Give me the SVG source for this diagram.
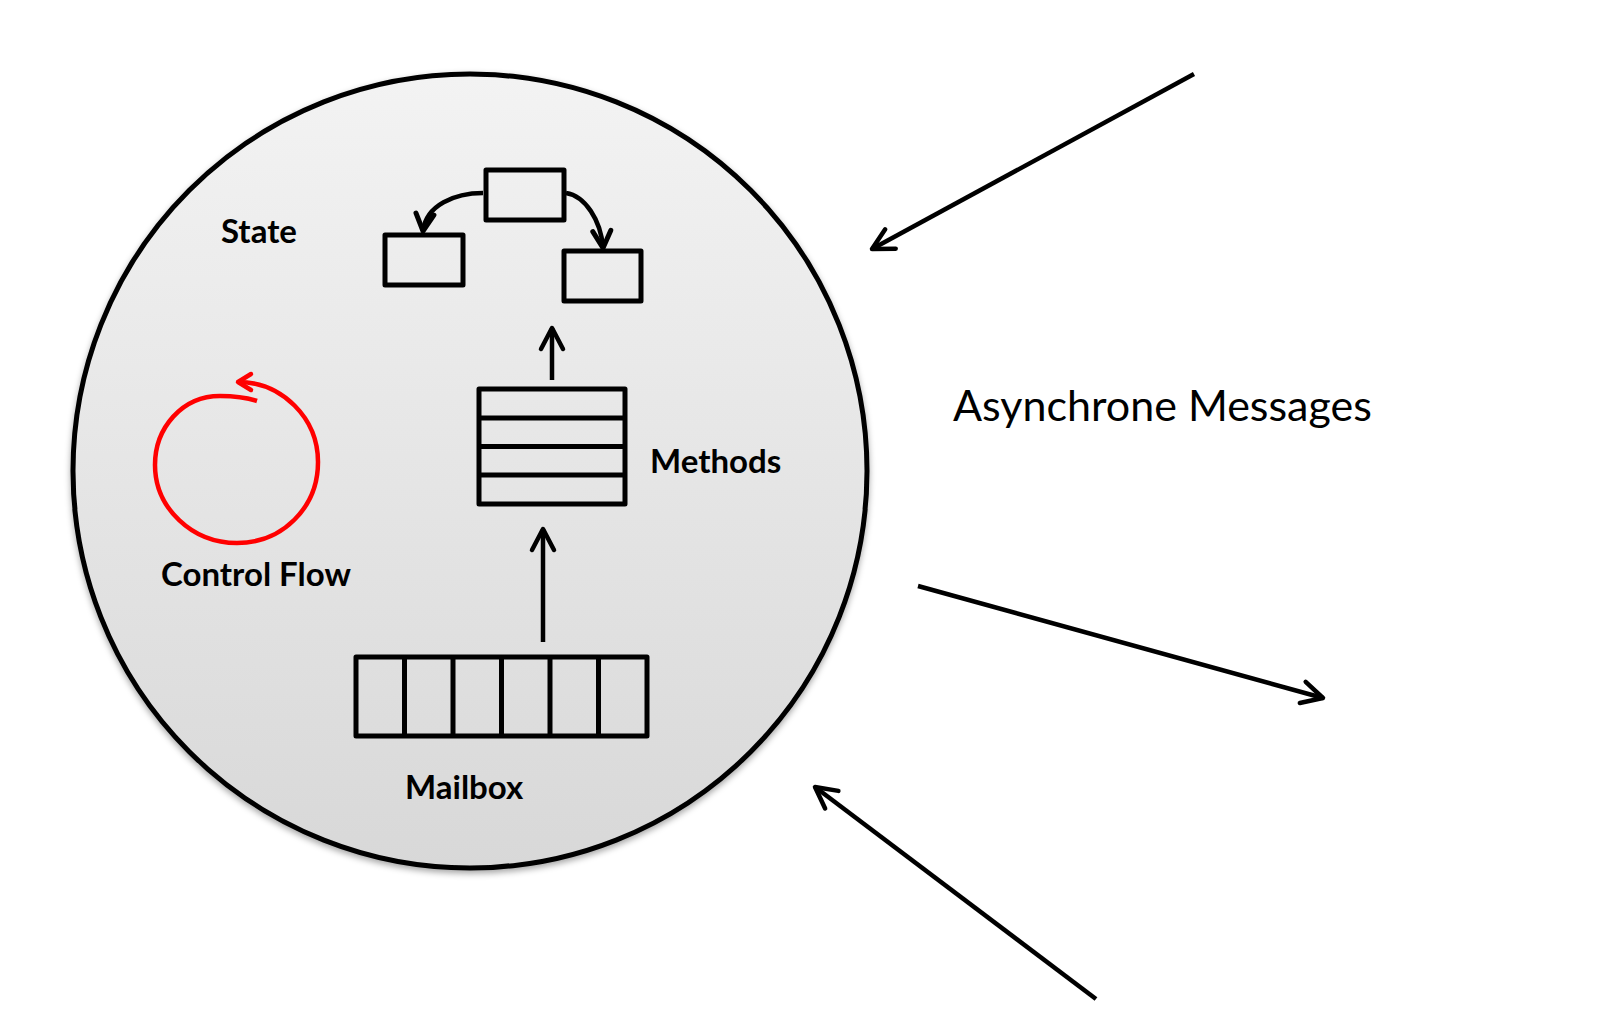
<svg xmlns="http://www.w3.org/2000/svg" width="1602" height="1012" viewBox="0 0 1602 1012">
<style>
.ln{fill:none;stroke:#000;stroke-width:5;stroke-linejoin:round}
.bx{fill:none;stroke:#000;stroke-width:5;stroke-linejoin:round}
.ar{fill:none;stroke:#000;stroke-width:4.5;stroke-linecap:butt}
.lb{font-family:Lato,"Open Sans","Liberation Sans",sans-serif;font-weight:bold;font-size:33px;fill:#000}
.tx{font-family:Lato,"Open Sans","Liberation Sans",sans-serif;font-size:43px;fill:#000}
</style>
<defs>
<linearGradient id="g" x1="0" y1="0" x2="0" y2="1">
<stop offset="0" stop-color="#f3f3f3"/>
<stop offset="1" stop-color="#d8d8d8"/>
</linearGradient>
<filter id="sh" x="-10%" y="-10%" width="120%" height="120%">
<feDropShadow dx="0" dy="3" stdDeviation="3" flood-color="#000" flood-opacity="0.35"/>
</filter>
<marker id="ah" markerUnits="userSpaceOnUse" markerWidth="40" markerHeight="40" viewBox="-30 -20 40 40" refX="0" refY="0" orient="auto" overflow="visible">
<path d="M-21,-11 L0,0 L-21,11" fill="none" stroke="#000" stroke-width="4.5" stroke-linecap="round" stroke-linejoin="round"/>
</marker>
<marker id="ahs" markerUnits="userSpaceOnUse" markerWidth="40" markerHeight="40" viewBox="-30 -20 40 40" refX="0" refY="0" orient="auto" overflow="visible">
<path d="M-17,-9 L0,0 L-17,9" fill="none" stroke="#000" stroke-width="5" stroke-linecap="round" stroke-linejoin="round"/>
</marker>
<marker id="ahr" markerUnits="userSpaceOnUse" markerWidth="40" markerHeight="40" viewBox="-30 -20 40 40" refX="0" refY="0" orient="auto" overflow="visible">
<path d="M-13,-8 L0,0 L-13,8" fill="none" stroke="#f00" stroke-width="4.5" stroke-linecap="round" stroke-linejoin="round"/>
</marker>
</defs>
<rect width="1602" height="1012" fill="#fff"/>

<g id="actor">
<circle cx="470" cy="471" r="397" fill="url(#g)" stroke="#000" stroke-width="5" filter="url(#sh)"/>
</g>

<g id="state">
<rect class="bx" x="486" y="170" width="78" height="50"/>
<rect class="bx" x="385" y="235" width="78" height="50"/>
<rect class="bx" x="564" y="251" width="77" height="50"/>
<text class="lb" x="221" y="243">State</text>
</g>

<g id="methods">
<rect class="bx" x="479" y="389" width="146" height="115"/>
<line class="ln" x1="479" y1="418" x2="625" y2="418"/>
<line class="ln" x1="479" y1="446.5" x2="625" y2="446.5"/>
<line class="ln" x1="479" y1="475" x2="625" y2="475"/>
<text class="lb" x="650" y="473">Methods</text>
</g>

<g id="mailbox">
<rect class="bx" x="356" y="657" width="291" height="79"/>
<line class="ln" x1="404.5" y1="657" x2="404.5" y2="736"/>
<line class="ln" x1="453" y1="657" x2="453" y2="736"/>
<line class="ln" x1="501.5" y1="657" x2="501.5" y2="736"/>
<line class="ln" x1="550" y1="657" x2="550" y2="736"/>
<line class="ln" x1="598.5" y1="657" x2="598.5" y2="736"/>
<text class="lb" x="405" y="799">Mailbox</text>
</g>

<g id="control-flow">
<path d="M257,401 C245,397 232,396 220,396 C182,396 155,428 155,465 C155,508 192,543 237,543 C282,543 318,508 318,462 C318,418 282,382 238,382" fill="none" stroke="#f00" stroke-width="4.5" marker-end="url(#ahr)"/>
<text class="lb" x="161" y="586">Control Flow</text>
</g>

<g id="label-messages">
<text class="tx" x="953" y="421">Asynchrone Messages</text>
</g>

<g id="connectors">
<path class="ar" d="M483,193 C455,193 426,205 423,231" stroke-width="5" marker-end="url(#ahs)"/>
<path class="ar" d="M566,193 C585,196 601,220 603,248" stroke-width="5" marker-end="url(#ahs)"/>
<line class="ar" x1="552" y1="380" x2="552" y2="328" marker-end="url(#ah)"/>
<line class="ar" x1="543" y1="642" x2="543" y2="529" marker-end="url(#ah)"/>
<line class="ar" x1="1194" y1="74" x2="872" y2="249" marker-end="url(#ah)"/>
<line class="ar" x1="918" y1="586" x2="1323" y2="698" marker-end="url(#ah)"/>
<line class="ar" x1="1096" y1="999" x2="815" y2="787" marker-end="url(#ah)"/>
</g>
</svg>
